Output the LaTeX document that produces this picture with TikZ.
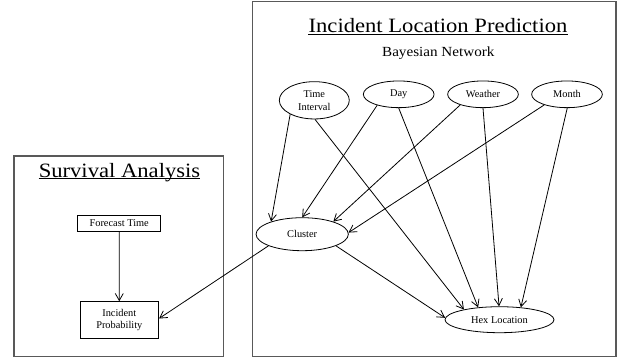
\documentclass[tikz,border=0pt]{standalone}
\usepackage{fontspec}
\usepackage{graphicx}
\setmainfont{Liberation Serif}
\usetikzlibrary{shapes.geometric,arrows.meta}

\tikzset{
  panel/.style={draw=black!65, line width=1.3bp},
  title/.style={inner sep=0pt, anchor=base, font=\fontsize{22.7}{26}\selectfont},
  subtitle/.style={inner sep=0pt, anchor=base, font=\fontsize{15.2}{18}\selectfont},
  var/.style={draw, ellipse, line width=0.8bp, inner sep=0pt,
    font=\fontsize{10.4}{12.7}\selectfont, align=center},
  stepbox/.style={draw, rectangle, line width=0.8bp, inner sep=0pt,
    font=\fontsize{10.4}{12.7}\selectfont, align=center},
  link/.style={line width=0.8bp, -{Straight Barb[length=7bp,width=8bp]}},
  uline/.style={line width=0.9bp},
}

\begin{document}
\begin{tikzpicture}[x=1bp, y=-1bp]
  \useasboundingbox (0,0) rectangle (621,362);

  % panels
  \draw[panel] (14,156) rectangle (223.5,356.5);
  \draw[panel] (252.5,1.7) rectangle (616,356.5);

  % survival analysis panel
  \node[title] (satitle) at (119.5,177.5) {\scalebox{1}[0.9]{Survival Analysis}};
  \draw[uline] ([yshift=-1.3bp]satitle.base west) -- ([yshift=-1.3bp]satitle.base east);
  \node[stepbox, minimum width=83bp, minimum height=16.7bp] (ft) at (119.2,223.3) {Forecast Time};
  \node[stepbox, minimum width=78.7bp, minimum height=36.7bp] (ip) at (119.3,320) {Incident\\Probability};

  % bayesian network panel
  \node[title] (iltitle) at (438,32.7) {\scalebox{1}[0.9]{Incident Location Prediction}};
  \draw[uline] ([yshift=-1.8bp]iltitle.base west) -- ([yshift=-1.8bp]iltitle.base east);
  \node[subtitle] (bn) at (438.3,56.5) {\scalebox{1}[0.92]{Bayesian Network}};

  \node[var, minimum width=70bp, minimum height=37.3bp] (ti) at (314.3,100.3) {Time\\Interval};
  \node[var, minimum width=70.7bp, minimum height=26.7bp] (day) at (398.7,94.3) {Day};
  \node[var, minimum width=70.7bp, minimum height=26.7bp] (wx) at (483,94.3) {Weather};
  \node[var, minimum width=70.7bp, minimum height=26.7bp] (mon) at (567,94.3) {Month};
  \node[var, minimum width=92.3bp, minimum height=33bp] (cl) at (302.2,234.2) {Cluster};
  \node[var, minimum width=109bp, minimum height=26bp] (hex) at (499.5,319.7) {Hex Location};

  % dependencies
  \draw[link] (ti.210) -- (cl.158);
  \draw[link] (day.207) -- (cl.90);
  \draw[link] (wx.205) -- (cl.22);
  \draw[link] (mon.205) -- (cl.2);
  \draw[link] (ti.272) -- (hex.164);
  \draw[link] (day.270) -- (hex.150);
  \draw[link] (wx.270) -- (hex.92);
  \draw[link] (mon.271) -- (hex.30);
  \draw[link] (cl.341) -- (hex.178);
  \draw[link] (cl.199) -- ([yshift=1.5bp]ip.east);
  \draw[link] (ft) -- (ip);
\end{tikzpicture}
\end{document}
